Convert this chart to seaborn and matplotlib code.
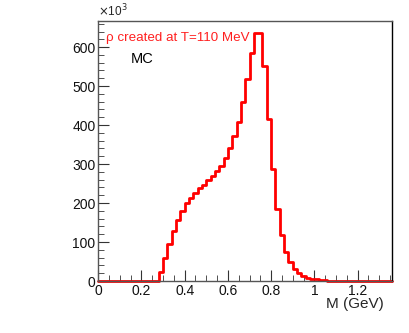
import seaborn as sns
import matplotlib.pyplot as plt
from matplotlib.ticker import MultipleLocator
import numpy as np
import pandas as pd

# invariant mass histogram, 0.02 GeV bins from 0 to 1.36 (counts in units of 10^3)
bin_edges = [round(0.02 * i, 2) for i in range(69)]
counts = ([0] * 14 +
          [24, 60, 95, 129, 157, 179, 200, 212, 226, 238, 247, 258, 270, 281,
           296, 316, 341, 371, 408, 458, 517, 585, 635, 635, 552, 416, 287, 185,
           118, 75, 50, 32, 21, 14, 9, 6, 4, 3, 2, 1, 1, 0.5] +
          [0] * 12)

df = pd.DataFrame({
    'M': (np.array(bin_edges[:-1]) + np.array(bin_edges[1:])) / 2,
    'n': counts,
})

sns.set_style('ticks')
plt.rcParams['font.family'] = ['Liberation Sans', 'DejaVu Sans']

fig = plt.figure(figsize=(4.09, 3.33), dpi=100)
ax = fig.add_axes([0.240, 0.156, 0.719, 0.781])

sns.histplot(data=df, x='M', weights='n', bins=bin_edges, element='step',
             fill=False, color='#ff0000', linewidth=2, ax=ax)
for art in ax.lines + list(ax.patches) + list(ax.collections):
    art.set_clip_on(False)

ax.set_xlim(0, 1.36)
ax.set_ylim(0, 667)
ax.xaxis.set_minor_locator(MultipleLocator(0.05))
ax.yaxis.set_major_locator(MultipleLocator(100))
ax.yaxis.set_minor_locator(MultipleLocator(20))
ax.set_xticks([0, 0.2, 0.4, 0.6, 0.8, 1.0, 1.2])
ax.set_xticklabels(['0', '0.2', '0.4', '0.6', '0.8', '1', '1.2'])
ax.tick_params(which='both', direction='in', labelsize=10, colors='#333333',
               labelcolor='#111111', pad=2)
ax.tick_params(which='major', length=8)
ax.tick_params(which='minor', length=4)
ax.set_xlabel('M (GeV)', fontsize=11, loc='right', labelpad=2)
ax.xaxis.set_label_coords(0.97, -0.06)
ax.xaxis.label.set_horizontalalignment('right')
ax.set_ylabel('')
for s in ax.spines.values():
    s.set_visible(True)
    s.set_color('#555555')
    s.set_linewidth(1)
ax.spines['right'].set_color('black')

ax.text(0, 1.005, r'$\times$10$^3$', transform=ax.transAxes, fontsize=8.5,
        ha='left', va='bottom')
ax.text(0.025, 0.935, 'ρ created at T=110 MeV', transform=ax.transAxes,
        color='#ff2020', fontsize=9.6, ha='left', va='center')
ax.text(0.11, 0.855, 'MC', transform=ax.transAxes, color='black',
        fontsize=10.5, ha='left', va='center')

fig.savefig('out.png', dpi=100)
